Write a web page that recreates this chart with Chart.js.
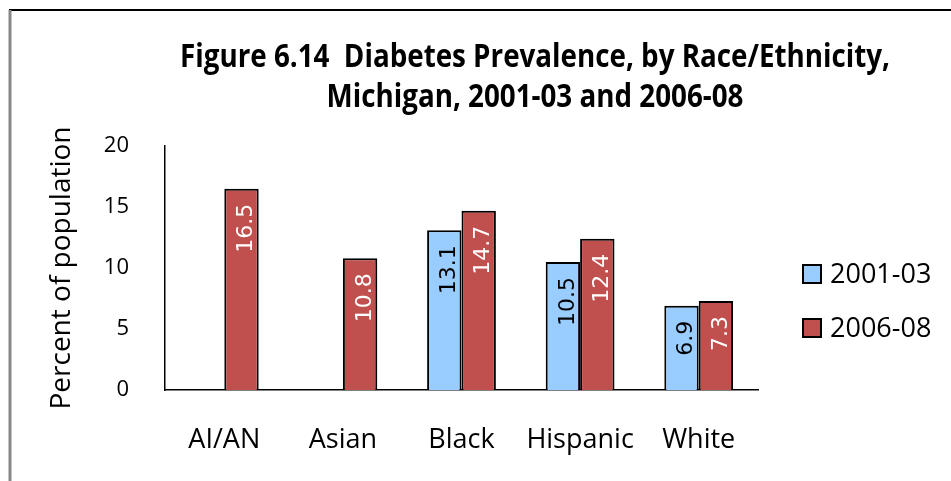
<!DOCTYPE html>
<html>
<head>
<meta charset="utf-8">
<script src="https://cdn.jsdelivr.net/npm/chart.js@4.4.1/dist/chart.umd.min.js"></script>
<style>
html,body{margin:0;padding:0;background:#fff;}
canvas{display:block;}
</style>
</head>
<body>
<canvas id="c" width="951" height="481"></canvas>
<script>
const categories = ["AI/AN", "Asian", "Black", "Hispanic", "White"];
const series2001 = [null, null, 13.1, 10.5, 6.9];
const series2006 = [16.5, 10.8, 14.7, 12.4, 7.3];
const seriesNames = ["2001-03", "2006-08"];
const yTicks = [0, 5, 10, 15, 20];
const titleLines = ["Figure 6.14  Diabetes Prevalence, by Race/Ethnicity,", "Michigan, 2001-03 and 2006-08"];
const yTitle = "Percent of population";

const FONT = "'Open Sans', 'Noto Sans', sans-serif";
const BLUE = "#99CCFF", RED = "#C0504D";
const labelColors = ["#000000", "#ffffff"];

const decor = {
  id: "decor",
  afterDraw(chart) {
    const ctx = chart.ctx;
    ctx.save();
    // frame
    ctx.strokeStyle = "#000"; ctx.lineWidth = 2;
    ctx.beginPath(); ctx.moveTo(9, 10); ctx.lineTo(951, 10); ctx.stroke();
    ctx.strokeStyle = "#888"; ctx.lineWidth = 3;
    ctx.beginPath(); ctx.moveTo(10, 10); ctx.lineTo(10, 481); ctx.stroke();
    // title
    ctx.fillStyle = "#000";
    ctx.font = "bold 32px " + FONT;
    ctx.textAlign = "center"; ctx.textBaseline = "alphabetic";
    const w1 = ctx.measureText(titleLines[0]).width;
    const k = Math.min(1, 710 / w1);
    const w2 = ctx.measureText(titleLines[1]).width;
    ctx.fillText(titleLines[0], 535, 67, w1 * k);
    ctx.fillText(titleLines[1], 535, 107, w2 * k);
    // data labels
    chart.data.datasets.forEach((ds, di) => {
      const meta = chart.getDatasetMeta(di);
      meta.data.forEach((bar, i) => {
        const v = ds.data[i];
        if (v === null || v === undefined) return;
        ctx.save();
        ctx.translate(bar.x + 5, bar.y + 15);
        ctx.rotate(-Math.PI / 2);
        ctx.font = "22px 'DejaVu Sans', sans-serif";
        ctx.fillStyle = labelColors[di];
        ctx.textAlign = "right"; ctx.textBaseline = "middle";
        ctx.fillText(v.toFixed(1), 0, 0);
        ctx.restore();
      });
    });
    // legend
    const ly = [274, 328];
    chart.data.datasets.forEach((ds, di) => {
      ctx.fillStyle = ds.backgroundColor;
      ctx.fillRect(803, ly[di] - 9, 18, 18);
      ctx.strokeStyle = "#000"; ctx.lineWidth = 2;
      ctx.strokeRect(803, ly[di] - 9, 18, 18);
      ctx.fillStyle = "#000";
      ctx.font = "27px " + FONT;
      ctx.textAlign = "left"; ctx.textBaseline = "middle";
      ctx.fillText(ds.label, 830, ly[di] + 1);
    });
    ctx.restore();
  }
};

new Chart(document.getElementById("c"), {
  type: "bar",
  data: {
    labels: categories,
    datasets: [
      { label: seriesNames[0], data: series2001, backgroundColor: BLUE, borderColor: "#000", borderWidth: 2 },
      { label: seriesNames[1], data: series2006, backgroundColor: RED, borderColor: "#000", borderWidth: 2 }
    ]
  },
  options: {
    responsive: false,
    devicePixelRatio: 1,
    animation: false,
    categoryPercentage: 0.58,
    barPercentage: 1,
    layout: { padding: { top: 146, left: 45, right: 193, bottom: 0 } },
    plugins: { legend: { display: false }, title: { display: false }, tooltip: { enabled: false } },
    scales: {
      x: {
        grid: { display: false },
        border: { display: true, color: "#000", width: 1.5 },
        ticks: { color: "#000", font: { family: FONT, size: 27 }, padding: 26, autoSkip: false, maxRotation: 0, minRotation: 0 },
        afterFit(scale) { scale.height = 91; }
      },
      y: {
        min: 0, max: 20,
        afterBuildTicks(scale) { scale.ticks = yTicks.map(v => ({ value: v })); },
        grid: { display: false },
        border: { display: true, color: "#000", width: 1.5 },
        ticks: { color: "#000", font: { family: FONT, size: 22 }, padding: 28 },
        title: { display: true, text: yTitle, color: "#000", font: { family: FONT, size: 28 }, padding: 0 },
        afterFit(scale) { scale.width = 120; }
      }
    }
  },
  plugins: [decor]
});
</script>
</body>
</html>
